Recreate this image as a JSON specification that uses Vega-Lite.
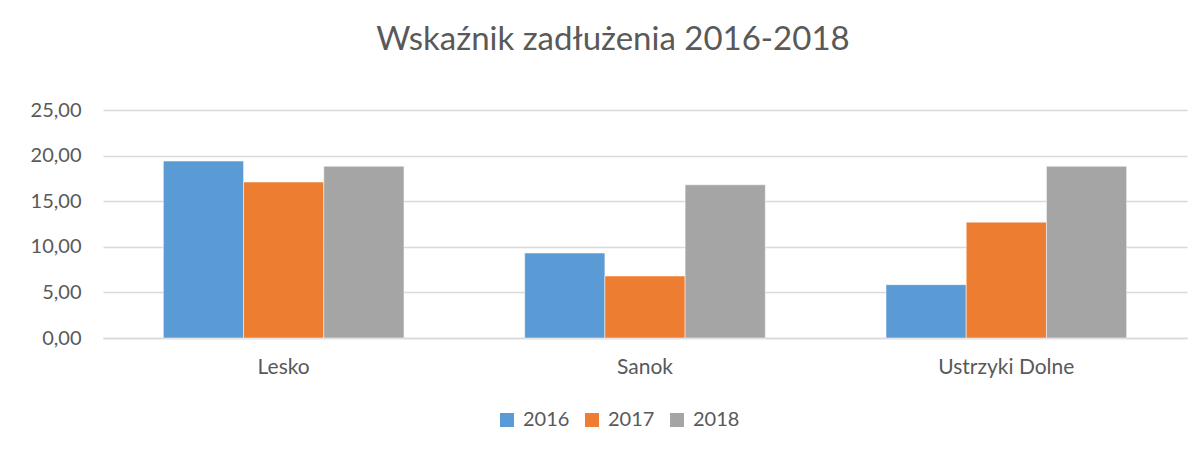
{
  "$schema": "https://vega.github.io/schema/vega-lite/v6.json",
  "width": 1084,
  "height": 228,
  "autosize": {"type": "none"},
  "padding": {"left": 103, "top": 110, "right": 15, "bottom": 112},
  "background": "white",
  "title": {
    "text": "Wskaźnik zadłużenia 2016-2018",
    "anchor": "middle",
    "dx": -32,
    "offset": 43,
    "font": "Lato",
    "fontSize": 33,
    "fontWeight": "normal",
    "color": "#595959"
  },
  "data": {
    "values": [
      {"gmina": "Lesko", "rok": "2016", "wartosc": 19.4},
      {"gmina": "Lesko", "rok": "2017", "wartosc": 17.1},
      {"gmina": "Lesko", "rok": "2018", "wartosc": 18.83},
      {"gmina": "Sanok", "rok": "2016", "wartosc": 9.32},
      {"gmina": "Sanok", "rok": "2017", "wartosc": 6.8},
      {"gmina": "Sanok", "rok": "2018", "wartosc": 16.8},
      {"gmina": "Ustrzyki Dolne", "rok": "2016", "wartosc": 5.85},
      {"gmina": "Ustrzyki Dolne", "rok": "2017", "wartosc": 12.7},
      {"gmina": "Ustrzyki Dolne", "rok": "2018", "wartosc": 18.83}
    ]
  },
  "mark": {"type": "bar", "stroke": "white", "strokeWidth": 0.5},
  "encoding": {
    "x": {
      "field": "gmina",
      "type": "nominal",
      "sort": null,
      "scale": {"paddingInner": 0.334, "paddingOuter": 0.167},
      "axis": {
        "title": null,
        "labelAngle": 0,
        "ticks": false,
        "domain": true,
        "domainColor": "#d9d9d9",
        "domainWidth": 1.5,
        "labelPadding": 18,
        "labelFont": "Lato",
        "labelFontSize": 21,
        "labelColor": "#595959"
      }
    },
    "xOffset": {
      "field": "rok",
      "type": "nominal",
      "scale": {"paddingInner": 0, "paddingOuter": 0}
    },
    "y": {
      "field": "wartosc",
      "type": "quantitative",
      "scale": {"domain": [0, 25], "nice": false},
      "axis": {
        "title": null,
        "values": [0, 5, 10, 15, 20, 25],
        "format": ".2f",
        "labelExpr": "replace(datum.label, '.', ',')",
        "ticks": false,
        "domain": false,
        "gridColor": "#d9d9d9",
        "gridWidth": 1.5,
        "labelPadding": 22,
        "labelFont": "Lato",
        "labelFontSize": 20,
        "labelColor": "#595959"
      }
    },
    "color": {
      "field": "rok",
      "type": "nominal",
      "scale": {"domain": ["2016", "2017", "2018"], "range": ["#5b9bd5", "#ed7d31", "#a5a5a5"]},
      "legend": {
        "title": null,
        "orient": "none",
        "direction": "horizontal",
        "legendX": 394,
        "legendY": 300,
        "symbolType": "square",
        "symbolSize": 196,
        "symbolStrokeWidth": 0,
        "labelOffset": 6,
        "columnPadding": 12,
        "labelFont": "Lato",
        "labelFontSize": 20,
        "labelColor": "#595959"
      }
    }
  },
  "config": {
    "view": {"stroke": null}
  }
}
